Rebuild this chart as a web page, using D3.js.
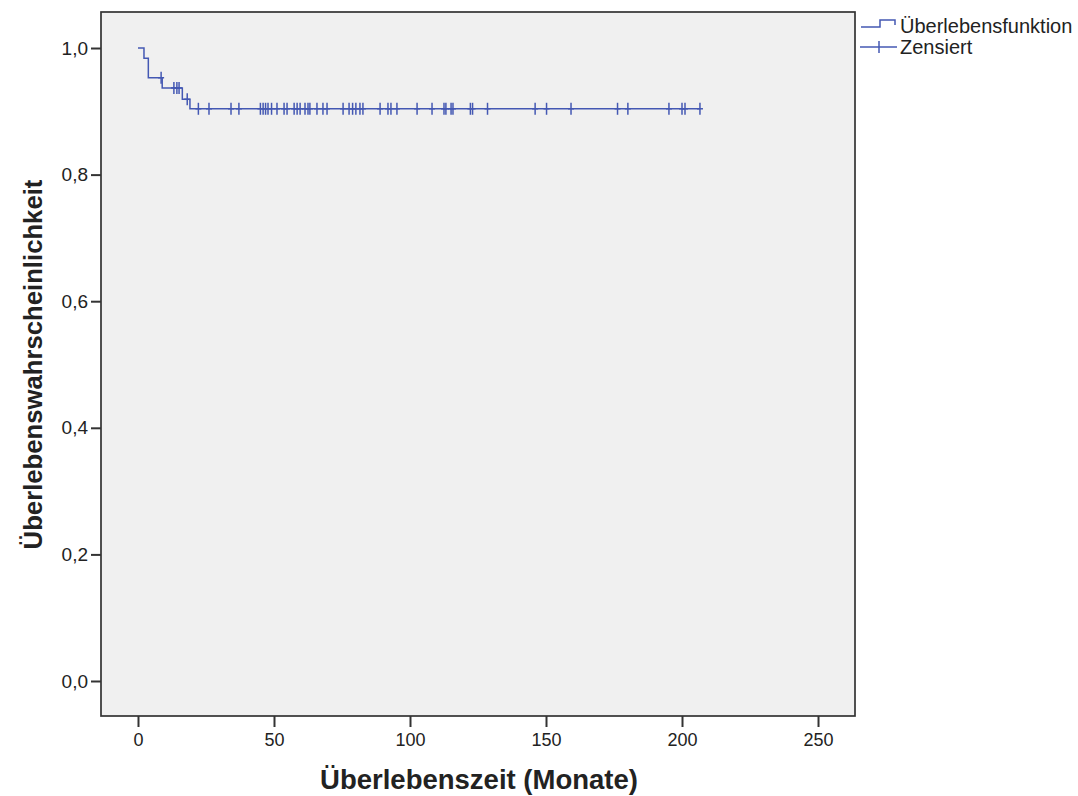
<!DOCTYPE html>
<html>
<head>
<meta charset="utf-8">
<script src="https://cdn.jsdelivr.net/npm/d3@7"></script>
<style>
  html, body { margin: 0; padding: 0; background: #ffffff; }
  svg { display: block; }
  text { font-family: "Liberation Sans", Arial, sans-serif; fill: #222; }
</style>
</head>
<body>
<svg id="chart" width="1078" height="796"></svg>
<script>
// ---- data ----
const eventTimes = [0, 2.2, 3.8, 8.9, 16.3, 19.1];          // months at which the curve drops
const eventSurvival = [1.0, 0.984, 0.953, 0.937, 0.919, 0.904]; // survival after each drop
const censorTimes = [8.5, 13.2, 14.3, 15.1, 18.1, 22.2, 26.1, 34.2, 37.1, 45.0, 46.0, 46.9, 47.8,
  49.1, 51.1, 53.7, 54.8, 57.4, 58.5, 59.6, 61.4, 62.5, 63.2, 65.8, 68.0, 69.5, 75.4, 77.6, 78.9,
  80.1, 81.6, 82.7, 89.0, 91.9, 93.0, 95.2, 102.6, 108.1, 112.5, 113.2, 115.1, 115.8, 122.2, 123.0,
  128.5, 146.0, 150.2, 159.2, 176.3, 180.1, 195.2, 200.0, 201.1, 206.6];
const xTicks = [0, 50, 100, 150, 200, 250];
const yTicks = [0, 0.2, 0.4, 0.6, 0.8, 1.0];
const xTitle = "Überlebenszeit (Monate)";
const yTitle = "Überlebenswahrscheinlichkeit";
const legendLabels = ["Überlebensfunktion", "Zensiert"];

// ---- layout ----
const plot = { left: 101, right: 855, top: 12, bottom: 716 };
const lineColor = "#4458b3";

const x = d3.scaleLinear().domain([-13.6, 263.6]).range([plot.left, plot.right]);
const y = d3.scaleLinear().domain([-0.0553, 1.0569]).range([plot.bottom, plot.top]);

const svg = d3.select("#chart");

// plot background + frame
svg.append("rect")
  .attr("x", plot.left).attr("y", plot.top)
  .attr("width", plot.right - plot.left).attr("height", plot.bottom - plot.top)
  .attr("fill", "#f0f0f0").attr("stroke", "#333").attr("stroke-width", 1.7);

const fmt = v => d3.format(".1f")(v).replace(".", ",");

// y axis
const yAxis = svg.append("g")
  .attr("transform", `translate(${plot.left},0)`)
  .call(d3.axisLeft(y).tickValues(yTicks).tickFormat(fmt).tickSize(10).tickPadding(3));
yAxis.select(".domain").remove();
yAxis.selectAll(".tick line").attr("stroke", "#333").attr("stroke-width", 2);
yAxis.selectAll(".tick text")
  .style("font-family", '"Liberation Sans", Arial, sans-serif')
  .style("font-size", "19px").attr("fill", "#222");

// x axis
const xAxis = svg.append("g")
  .attr("transform", `translate(0,${plot.bottom})`)
  .call(d3.axisBottom(x).tickValues(xTicks).tickFormat(d3.format("d")).tickSize(11).tickPadding(6));
xAxis.select(".domain").remove();
xAxis.selectAll(".tick line").attr("stroke", "#333").attr("stroke-width", 2);
xAxis.selectAll(".tick text")
  .style("font-family", '"Liberation Sans", Arial, sans-serif')
  .style("font-size", "18px").attr("fill", "#222");

// axis titles
svg.append("text")
  .attr("x", (x(0) + x(250)) / 2 + 1).attr("y", 789)
  .attr("text-anchor", "middle")
  .style("font-size", "27.5px").style("font-weight", "bold")
  .text(xTitle);

svg.append("text")
  .attr("transform", `translate(42,${(y(0) + y(1)) / 2}) rotate(-90)`)
  .attr("text-anchor", "middle")
  .style("font-size", "25.7px").style("font-weight", "bold")
  .text(yTitle);

// survival step function
const lastTime = d3.max(censorTimes);
const stepData = eventTimes.map((t, i) => ({ t, s: eventSurvival[i] }));
stepData.push({ t: lastTime, s: eventSurvival[eventSurvival.length - 1] });

const survivalAt = t => {
  let s = eventSurvival[0];
  for (let i = 0; i < eventTimes.length; i++) if (eventTimes[i] <= t) s = eventSurvival[i];
  return s;
};

const line = d3.line().x(d => x(d.t)).y(d => y(d.s)).curve(d3.curveStepAfter);
svg.append("path")
  .datum(stepData)
  .attr("d", line)
  .attr("fill", "none")
  .attr("stroke", lineColor)
  .attr("stroke-width", 1.5);

// censor marks
const cg = svg.append("g").attr("stroke", lineColor).attr("stroke-width", 1.5);
censorTimes.forEach(t => {
  const cx = x(t), cy = y(survivalAt(t));
  cg.append("line").attr("x1", cx).attr("x2", cx).attr("y1", cy - 6).attr("y2", cy + 6);
  cg.append("line").attr("x1", cx - 3).attr("x2", cx + 3).attr("y1", cy).attr("y2", cy);
});

// legend
const lg = svg.append("g").attr("stroke", lineColor).attr("stroke-width", 1.5).attr("fill", "none");
lg.append("path").attr("d", "M861,27 H880 V20 H895 V25");
lg.append("line").attr("x1", 860).attr("x2", 897).attr("y1", 47).attr("y2", 47);
lg.append("line").attr("x1", 879).attr("x2", 879).attr("y1", 41).attr("y2", 53);

svg.append("text").attr("x", 900).attr("y", 33).style("font-size", "20px").text(legendLabels[0]);
svg.append("text").attr("x", 900).attr("y", 54).style("font-size", "20px").text(legendLabels[1]);
</script>
</body>
</html>
